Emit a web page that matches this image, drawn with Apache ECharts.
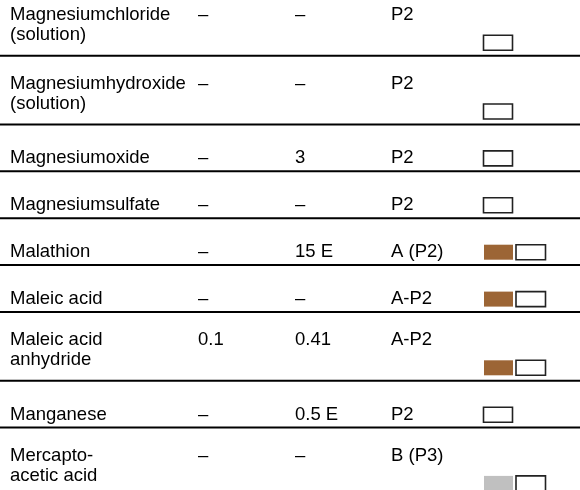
<!DOCTYPE html>
<html>
<head>
<meta charset="utf-8">
<script src="https://cdn.jsdelivr.net/npm/echarts@6/dist/echarts.min.js"></script>
<style>
html,body{margin:0;padding:0;background:#fff;}
#chart{width:580px;height:490px;}
</style>
</head>
<body>
<div id="chart"></div>
<script>
// ---- data ----
var substances = ['Magnesiumchloride\n(solution)', 'Magnesiumhydroxide\n(solution)', 'Magnesiumoxide', 'Magnesiumsulfate', 'Malathion', 'Maleic acid', 'Maleic acid\nanhydride', 'Manganese', 'Mercapto-\nacetic acid'];
var valueA = ['–', '–', '–', '–', '–', '–', '0.1', '–', '–'];
var valueB = ['–', '–', '3', '–', '15 E', '–', '0.41', '0.5 E', '–'];
var classes = ['P2', 'P2', 'P2', 'P2', 'A (P2)', 'A-P2', 'A-P2', 'P2', 'B (P3)'];
var hazard = [null, null, null, null, 'A', 'A', 'A', null, 'B'];

// ---- layout ----
var FONT = '18.5px "Liberation Sans", Arial, sans-serif';
var colX = [10, 198, 295, 391];
var hazardColor = { A: '#9C6535', B: '#C0C0C0' };
var lineGap = 21.8, rowBase = 25.1, startY = -13;
var textTopSingle = 33.8, textTopMulti = 28, textLead = 20;

var rows = [];
var y = startY;
substances.forEach(function (s, i) {
  var n = s.split('\n').length;
  var h = rowBase + lineGap * n;
  rows.push([i, y, y + h, n]);
  y += h;
});

function renderItem(params, api) {
  var i = api.value(0);
  var top = api.value(1);
  var bottom = api.value(2);
  var n = api.value(3);
  var children = [];
  var firstY = top + (n > 1 ? textTopMulti : textTopSingle);
  function addText(txt, x, cy) {
    var pt = api.coord([x, cy]);
    children.push({ type: 'text', x: pt[0], y: pt[1], style: { text: txt, fill: '#000', font: FONT, align: 'left', verticalAlign: 'middle' } });
  }
  substances[i].split('\n').forEach(function (p, k) { addText(p, colX[0], firstY + k * textLead); });
  addText(valueA[i], colX[1], firstY);
  addText(valueB[i], colX[2], firstY);
  addText(classes[i], colX[3], firstY);
  // boxes
  var b0 = api.coord([0, bottom - 20.4]);
  var b1 = api.coord([0, bottom - 5.4]);
  var bh = b1[1] - b0[1];
  if (hazard[i]) {
    var c0 = api.coord([484, 0])[0], c1 = api.coord([513, 0])[0];
    children.push({ type: 'rect', shape: { x: c0, y: b0[1], width: c1 - c0, height: bh }, style: { fill: hazardColor[hazard[i]] } });
    var w0 = api.coord([516, 0])[0], w1 = api.coord([545.5, 0])[0];
    children.push({ type: 'rect', shape: { x: w0, y: b0[1], width: w1 - w0, height: bh }, style: { fill: '#fff', stroke: '#222', lineWidth: 1.6 } });
  } else {
    var s0 = api.coord([483.5, 0])[0], s1 = api.coord([512.5, 0])[0];
    children.push({ type: 'rect', shape: { x: s0, y: b0[1], width: s1 - s0, height: bh }, style: { fill: '#fff', stroke: '#222', lineWidth: 1.6 } });
  }
  // row separator
  var l0 = api.coord([0, bottom]), l1 = api.coord([580, bottom]);
  children.push({ type: 'line', shape: { x1: l0[0], y1: l0[1], x2: l1[0], y2: l1[1] }, style: { stroke: '#000', lineWidth: 2 } });
  return { type: 'group', children: children };
}

var chart = echarts.init(document.getElementById('chart'));
chart.setOption({
  animation: false,
  grid: { left: 0, right: 0, top: 0, bottom: 0 },
  xAxis: { type: 'value', min: 0, max: 580, show: false },
  yAxis: { type: 'value', min: 0, max: 490, inverse: true, show: false },
  series: [{
    type: 'custom',
    clip: false,
    renderItem: renderItem,
    encode: { x: -1, y: -1 },
    data: rows
  }]
});
</script>
</body>
</html>
